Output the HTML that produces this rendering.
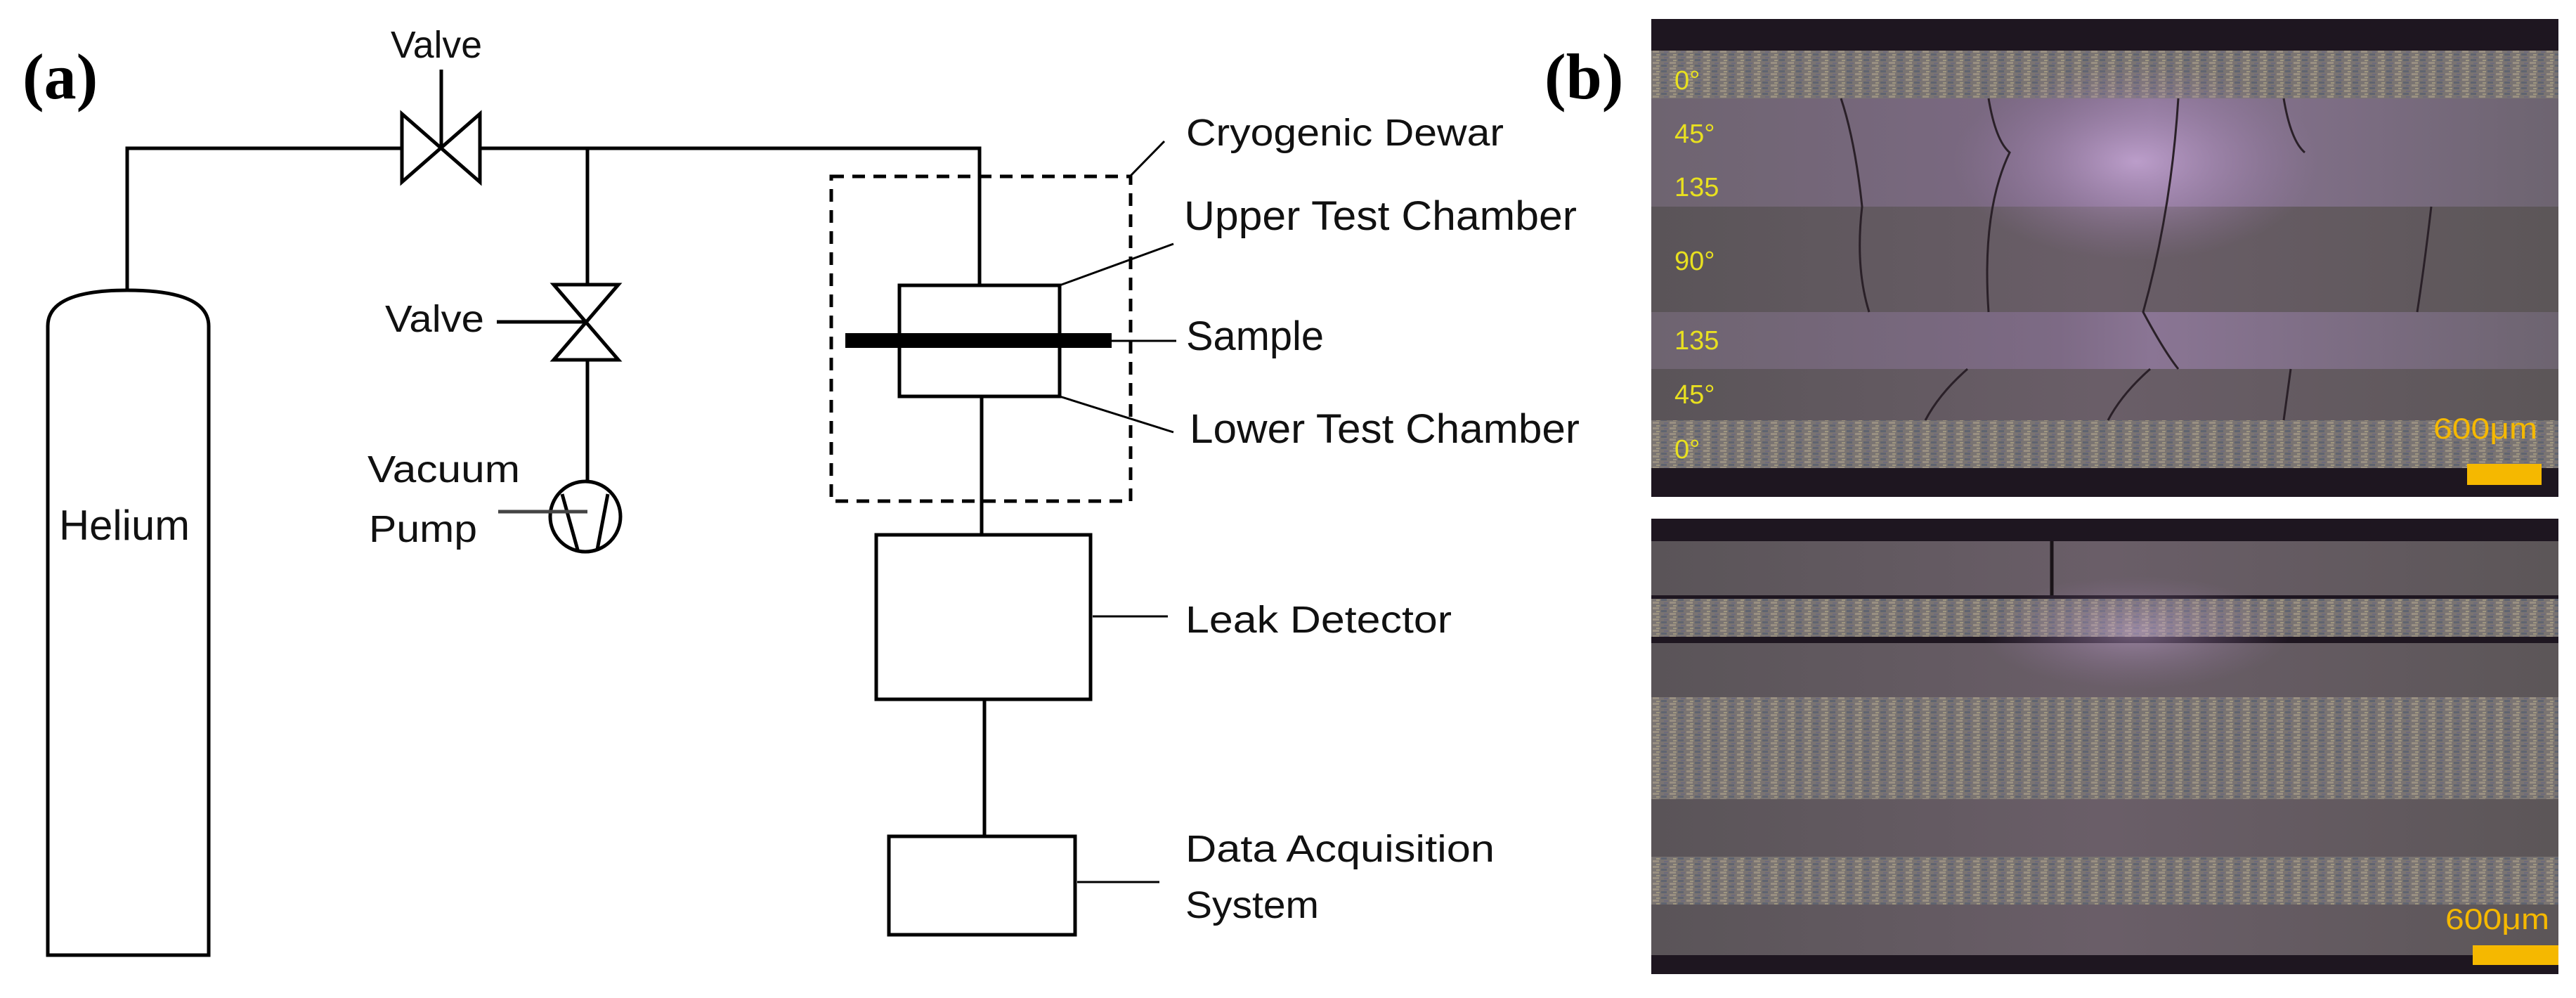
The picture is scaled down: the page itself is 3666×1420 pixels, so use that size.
<!DOCTYPE html>
<html><head><meta charset="utf-8"><style>
html,body{margin:0;padding:0;background:#fff;}
svg{display:block;}
</style></head><body>
<svg width="3666" height="1420" viewBox="0 0 3666 1420" xmlns="http://www.w3.org/2000/svg">
<defs>
<linearGradient id="lam" x1="0" y1="0" x2="1" y2="0">
<stop offset="0" stop-color="#6e6470"/><stop offset="0.45" stop-color="#7d6a85"/><stop offset="0.55" stop-color="#8a7594"/><stop offset="1" stop-color="#6d6470"/>
</linearGradient>
<radialGradient id="glow" cx="0.5" cy="0.5" r="0.5">
<stop offset="0" stop-color="#c8a8d8" stop-opacity="0.8"/><stop offset="1" stop-color="#9a7aaa" stop-opacity="0"/>
</radialGradient>
<pattern id="fib" width="24" height="8" patternUnits="userSpaceOnUse">
<rect width="24" height="8" fill="#7a7472"/>
<rect x="0" y="0" width="9" height="3" fill="#9a9082"/>
<rect x="12" y="4" width="8" height="3" fill="#5f6470"/>
<rect x="5" y="5" width="5" height="2" fill="#a09880"/>
<rect x="16" y="1" width="6" height="2" fill="#6d6a7c"/>
</pattern>
<linearGradient id="lam2" x1="0" y1="0" x2="1" y2="0">
<stop offset="0" stop-color="#5a5458"/><stop offset="0.5" stop-color="#6a5e68"/><stop offset="1" stop-color="#5c5658"/>
</linearGradient>
</defs>
<g font-family="Liberation Sans, sans-serif" fill="#000">
<text x="32" y="140" font-family="Liberation Serif, serif" font-weight="bold" font-size="92">(a)</text>
<text x="2198" y="140" font-family="Liberation Serif, serif" font-weight="bold" font-size="92">(b)</text>
</g>
<g stroke="#000" stroke-width="5" fill="none">
<polyline points="181,413 181,211 572,211"/>
<polyline points="683,211 1394,211 1394,406"/>
<line x1="628" y1="99" x2="628" y2="209"/>
<polygon points="572,162 572,259 683,162 683,259"/>
<line x1="836" y1="211" x2="836" y2="405"/>
<polygon points="788,405 880,405 788,512 880,512"/>
<line x1="836" y1="512" x2="836" y2="685"/>
<line x1="707" y1="458" x2="836" y2="458"/>
<circle cx="833" cy="735" r="50"/>
<line x1="800" y1="703" x2="822" y2="782"/>
<line x1="865" y1="703" x2="850" y2="782"/>
<line x1="709" y1="728" x2="836" y2="728" stroke="#444"/>
<path d="M68,1359 L68,464 Q68,413 181,413 Q297,413 297,464 L297,1359 Z"/>
<rect x="1183" y="251" width="426" height="462" stroke-dasharray="18,12"/>
<line x1="1609" y1="250" x2="1657" y2="201" stroke-width="3"/>
<rect x="1280" y="406" width="228" height="158"/>
<line x1="1508" y1="406" x2="1670" y2="347" stroke-width="3"/>
<line x1="1508" y1="564" x2="1670" y2="615" stroke-width="3"/>
<line x1="1582" y1="485" x2="1674" y2="485" stroke-width="3"/>
<line x1="1397" y1="564" x2="1397" y2="761"/>
<rect x="1247" y="761" width="305" height="234"/>
<line x1="1555" y1="877" x2="1662" y2="877" stroke-width="3"/>
<line x1="1401" y1="995" x2="1401" y2="1190"/>
<rect x="1265" y="1190" width="265" height="140"/>
<line x1="1533" y1="1255" x2="1650" y2="1255" stroke-width="3"/>
</g>
<rect x="1203" y="474" width="379" height="21" fill="#000"/>
<g font-family="Liberation Sans, sans-serif" font-size="54" fill="#111">
<text x="556" y="82" textLength="130" lengthAdjust="spacingAndGlyphs">Valve</text>
<text x="548" y="472" textLength="141" lengthAdjust="spacingAndGlyphs">Valve</text>
<text x="523" y="686" textLength="217" lengthAdjust="spacingAndGlyphs">Vacuum</text>
<text x="525" y="771" textLength="154" lengthAdjust="spacingAndGlyphs">Pump</text>
<text x="84" y="768" textLength="186" lengthAdjust="spacingAndGlyphs" font-size="60">Helium</text>
<text x="1688" y="207" textLength="452" lengthAdjust="spacingAndGlyphs">Cryogenic Dewar</text>
<text x="1685" y="327" textLength="559" lengthAdjust="spacingAndGlyphs" font-size="58">Upper Test Chamber</text>
<text x="1688" y="498" textLength="196" lengthAdjust="spacingAndGlyphs" font-size="58">Sample</text>
<text x="1693" y="630" textLength="555" lengthAdjust="spacingAndGlyphs" font-size="58">Lower Test Chamber</text>
<text x="1687" y="900" textLength="379" lengthAdjust="spacingAndGlyphs">Leak Detector</text>
<text x="1687" y="1226" textLength="440" lengthAdjust="spacingAndGlyphs">Data Acquisition</text>
<text x="1687" y="1306" textLength="190" lengthAdjust="spacingAndGlyphs">System</text>
</g>
<g>
<rect x="2350" y="27" width="1291" height="680" fill="#1e1620"/>
<rect x="2350" y="72" width="1291" height="68" fill="url(#fib)"/>
<rect x="2350" y="140" width="1291" height="77" fill="url(#lam)"/>
<rect x="2350" y="217" width="1291" height="77" fill="url(#lam)"/>
<rect x="2350" y="294" width="1291" height="150" fill="url(#lam2)"/>
<rect x="2350" y="444" width="1291" height="81" fill="url(#lam)"/>
<rect x="2350" y="525" width="1291" height="73" fill="url(#lam2)"/>
<rect x="2350" y="598" width="1291" height="68" fill="url(#fib)"/>
<ellipse cx="3040" cy="230" rx="260" ry="140" fill="url(#glow)"/>
<g stroke="#2a2028" stroke-width="3" fill="none">
<path d="M2620,140 Q2640,200 2650,294 Q2640,380 2660,444"/>
<path d="M2830,140 Q2840,200 2860,217 Q2820,300 2830,444"/>
<path d="M3100,140 Q3090,300 3050,444 Q3080,500 3100,525"/>
<path d="M3250,140 Q3260,200 3280,217"/>
<path d="M3460,294 Q3450,380 3440,444"/>
<path d="M3060,525 Q3020,560 3000,598"/>
<path d="M3260,525 L3250,598"/>
<path d="M2800,525 Q2760,560 2740,598"/>
</g>
<g font-family="Liberation Sans, sans-serif" font-size="38" fill="#e8e020">
<text x="2383" y="127">0°</text>
<text x="2383" y="203">45°</text>
<text x="2383" y="279">135</text>
<text x="2383" y="384">90°</text>
<text x="2383" y="497">135</text>
<text x="2383" y="574">45°</text>
<text x="2383" y="652">0°</text>
</g>
<text x="3463" y="624" font-family="Liberation Sans, sans-serif" font-size="42" fill="#f5b800" textLength="148" lengthAdjust="spacingAndGlyphs">600μm</text>
<rect x="3511" y="660" width="106" height="30" fill="#f5b800"/>
</g>
<g>
<rect x="2350" y="738" width="1291" height="648" fill="#1e1620"/>
<rect x="2350" y="770" width="1291" height="77" fill="url(#lam2)"/>
<rect x="2350" y="852" width="1291" height="54" fill="url(#fib)"/>
<rect x="2350" y="915" width="1291" height="77" fill="url(#lam2)"/>
<rect x="2350" y="992" width="1291" height="145" fill="url(#fib)"/>
<rect x="2350" y="1137" width="1291" height="82" fill="url(#lam2)"/>
<rect x="2350" y="1219" width="1291" height="68" fill="url(#fib)"/>
<rect x="2350" y="1287" width="1291" height="72" fill="url(#lam2)"/>
<ellipse cx="3040" cy="900" rx="220" ry="80" fill="url(#glow)" opacity="0.6"/>
<line x1="2920" y1="770" x2="2920" y2="847" stroke="#1a1418" stroke-width="5"/>
<text x="3480" y="1322" font-family="Liberation Sans, sans-serif" font-size="42" fill="#f5b800" textLength="148" lengthAdjust="spacingAndGlyphs">600μm</text>
<rect x="3519" y="1345" width="122" height="28" fill="#f5b800"/>
</g>
</svg>
</body></html>
